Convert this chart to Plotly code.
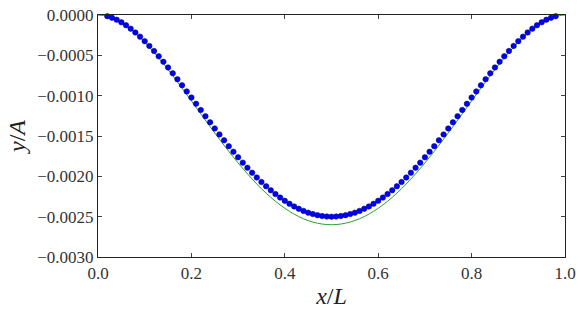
import plotly.graph_objects as go

# Blue dots: x positions and deflection values
dot_x = [round(0.02 + 0.01 * i, 2) for i in range(97)]
dot_y_half = [  # x = 0.02 ... 0.50
    -0.0000154, -0.0000339, -0.0000590, -0.0000903, -0.0001272, -0.0001695,
    -0.0002167, -0.0002683, -0.0003240, -0.0003834, -0.0004461, -0.0005117,
    -0.0005799, -0.0006503, -0.0007225, -0.0007964, -0.0008714, -0.0009474,
    -0.0010240, -0.0011009, -0.0011779, -0.0012546, -0.0013308, -0.0014063,
    -0.0014807, -0.0015539, -0.0016257, -0.0016958, -0.0017640, -0.0018301,
    -0.0018940, -0.0019554, -0.0020142, -0.0020703, -0.0021234, -0.0021734,
    -0.0022203, -0.0022639, -0.0023040, -0.0023406, -0.0023736, -0.0024030,
    -0.0024285, -0.0024503, -0.0024681, -0.0024820, -0.0024920, -0.0024980,
    -0.0025000,
]
dot_y = dot_y_half + dot_y_half[-2::-1]

# Green curve
line_x = [round(0.02 * i, 2) for i in range(51)]
line_y_half = [  # x = 0.00 ... 0.50
    0.0, -0.0000160, -0.0000613, -0.0001323, -0.0002253, -0.0003370,
    -0.0004639, -0.0006030, -0.0007514, -0.0009063, -0.0010650, -0.0012250,
    -0.0013840, -0.0015399, -0.0016907, -0.0018346, -0.0019698, -0.0020948,
    -0.0022083, -0.0023091, -0.0023962, -0.0024686, -0.0025257, -0.0025668,
    -0.0025917, -0.0026000,
]
line_y = line_y_half + line_y_half[-2::-1]

x_ticks = [0.0, 0.2, 0.4, 0.6, 0.8, 1.0]
x_tick_text = ["0.0", "0.2", "0.4", "0.6", "0.8", "1.0"]
y_ticks = [0.0, -0.0005, -0.0010, -0.0015, -0.0020, -0.0025, -0.0030]
y_tick_text = ["0.0000", "\u22120.0005", "\u22120.0010", "\u22120.0015",
               "\u22120.0020", "\u22120.0025", "\u22120.0030"]

font_family = "Liberation Serif"

fig = go.Figure()
fig.add_trace(go.Scatter(
    x=line_x, y=line_y, mode="lines", line_shape="spline",
    line=dict(color="#2ca02c", width=1), showlegend=False, cliponaxis=False,
))
fig.add_trace(go.Scatter(
    x=dot_x, y=dot_y, mode="markers",
    marker=dict(color="#0000ff", size=5.5, line=dict(color="#000066", width=0.5)),
    showlegend=False, cliponaxis=False,
))

axis_common = dict(
    showgrid=False, zeroline=False, showline=True, linecolor="#222222",
    linewidth=1.2, mirror="ticks", ticks="inside", ticklen=4, tickcolor="#444444",
    automargin=False,
    tickfont=dict(family=font_family, size=17, color="#333333"),
)

fig.update_layout(
    width=581, height=309,
    margin=dict(l=98, r=16, t=15, b=52, autoexpand=False),
    paper_bgcolor="white", plot_bgcolor="white",
    font=dict(family=font_family),
    xaxis=dict(range=[0, 1], tickvals=x_ticks, ticktext=x_tick_text,
               title=dict(text="<i>x</i>/<i>L</i>", standoff=6,
                          font=dict(family=font_family, size=24, color="#222222")),
               **axis_common),
    yaxis=dict(range=[-0.003, 0], tickvals=y_ticks, ticktext=y_tick_text,
               title=dict(text="<i>y</i>/<i>A</i>", standoff=4,
                          font=dict(family=font_family, size=24, color="#222222")),
               **axis_common),
)

fig.write_html("out.html", config={"displayModeBar": False},
               post_script="document.body.style.margin='0';")
